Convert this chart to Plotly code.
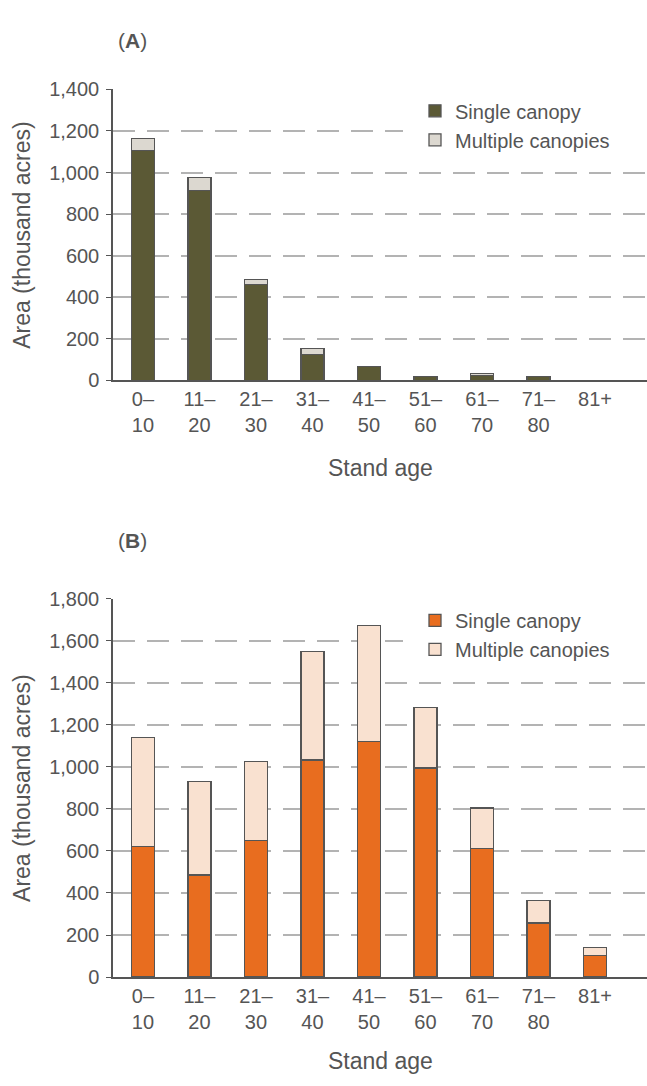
import plotly.graph_objects as go

categories = ["0–<br>10", "11–<br>20", "21–<br>30", "31–<br>40", "41–<br>50",
              "51–<br>60", "61–<br>70", "71–<br>80", "81+<br> "]

# Panel A (thousand acres)
a_single = [1105, 915, 461, 123, 66, 17, 24, 17, 0]
a_multiple = [58, 61, 25, 31, 0, 0, 10, 0, 0]

# Panel B (thousand acres)
b_single = [621, 486, 650, 1033, 1121, 995, 612, 257, 104]
b_multiple = [518, 443, 375, 518, 553, 287, 193, 106, 38]

a_ticks = [0, 200, 400, 600, 800, 1000, 1200, 1400]
b_ticks = [0, 200, 400, 600, 800, 1000, 1200, 1400, 1600, 1800]

W, H = 647, 1086
FONT = "Liberation Sans, Arial, Helvetica, sans-serif"
TXT = "#555555"
EDGE = "#555555"

def py(p):
    return 1 - p / H

def px(p):
    return p / W

fig = go.Figure()

fig.add_trace(go.Bar(x=categories, y=a_single, name="Single canopy", xaxis="x", yaxis="y",
                     marker=dict(color="#5b5935", line=dict(color=EDGE, width=1.3)),
                     width=0.41, legend="legend"))
fig.add_trace(go.Bar(x=categories, y=a_multiple, name="Multiple canopies", xaxis="x", yaxis="y",
                     marker=dict(color="#dcd8d0", line=dict(color=EDGE, width=1.3)),
                     width=0.41, legend="legend"))
fig.add_trace(go.Bar(x=categories, y=b_single, name="Single canopy", xaxis="x2", yaxis="y2",
                     marker=dict(color="#e86d1f", line=dict(color=EDGE, width=1.3)),
                     width=0.41, legend="legend2"))
fig.add_trace(go.Bar(x=categories, y=b_multiple, name="Multiple canopies", xaxis="x2", yaxis="y2",
                     marker=dict(color="#f9e1d0", line=dict(color=EDGE, width=1.3)),
                     width=0.41, legend="legend2"))

xdom = [px(113), 1.0]
xcommon = dict(domain=xdom, type="category", range=[-0.53, 8.92], showgrid=False,
               showline=True, linecolor=EDGE, linewidth=1.5, ticks="",
               tickfont=dict(family=FONT, size=20, color=TXT), zeroline=False)
ycommon = dict(showgrid=True, gridcolor="#b3b3b3", gridwidth=1.5, griddash="22px,12px",
               showline=True, linecolor=EDGE, linewidth=1.5, ticks="outside", ticklen=5,
               tickcolor=EDGE, tickwidth=1.2, tickformat=",", zeroline=False,
               tickfont=dict(family=FONT, size=20, color=TXT), ticklabelstandoff=3)

fig.update_layout(
    width=W, height=H, margin=dict(l=0, r=0, t=0, b=0),
    paper_bgcolor="white", plot_bgcolor="white",
    barmode="stack", showlegend=True,
    xaxis=dict(anchor="y", **xcommon),
    yaxis=dict(domain=[py(377), py(80)], anchor="x", range=[0, 1400], tickvals=a_ticks, **ycommon),
    xaxis2=dict(anchor="y2", **xcommon),
    yaxis2=dict(domain=[py(986), py(600)], anchor="x2", range=[0, 1800], tickvals=b_ticks, **ycommon),
    legend=dict(x=px(415), y=py(82), xanchor="left", yanchor="top", traceorder="normal",
                font=dict(family=FONT, size=20, color=TXT), bgcolor="white"),
    legend2=dict(x=px(415), y=py(602), xanchor="left", yanchor="top", traceorder="normal",
                 font=dict(family=FONT, size=20, color=TXT), bgcolor="white"),
)

# white legend backgrounds reaching the right edge (hide gridlines behind legend)
for (y0, y1) in ((88, 146), (607, 666)):
    fig.add_shape(type="rect", xref="paper", yref="paper", x0=px(403), x1=1.0,
                  y0=py(y1), y1=py(y0), fillcolor="white", line=dict(width=0), layer="above")

annots = [
    dict(text="(<b>A</b>)", x=px(116), y=py(30), xanchor="left", yanchor="middle", size=21),
    dict(text="(<b>B</b>)", x=px(116), y=py(540), xanchor="left", yanchor="middle", size=21),
    dict(text="Stand age", x=px(381), y=py(466), xanchor="center", yanchor="middle", size=23),
    dict(text="Stand age", x=px(381), y=py(1072), xanchor="center", yanchor="middle", size=23),
]
for a in annots:
    fig.add_annotation(text=a["text"], x=a["x"], y=a["y"], xref="paper", yref="paper",
                       xanchor=a["xanchor"], yanchor=a["yanchor"], showarrow=False,
                       font=dict(family=FONT, size=a["size"], color=TXT))

for yc in (228.5, 793):
    fig.add_annotation(text="Area (thousand acres)", x=px(22), y=py(yc), xref="paper", yref="paper",
                       xanchor="center", yanchor="middle", showarrow=False, textangle=-90,
                       font=dict(family=FONT, size=23, color=TXT))

fig.write_html("out.html")
